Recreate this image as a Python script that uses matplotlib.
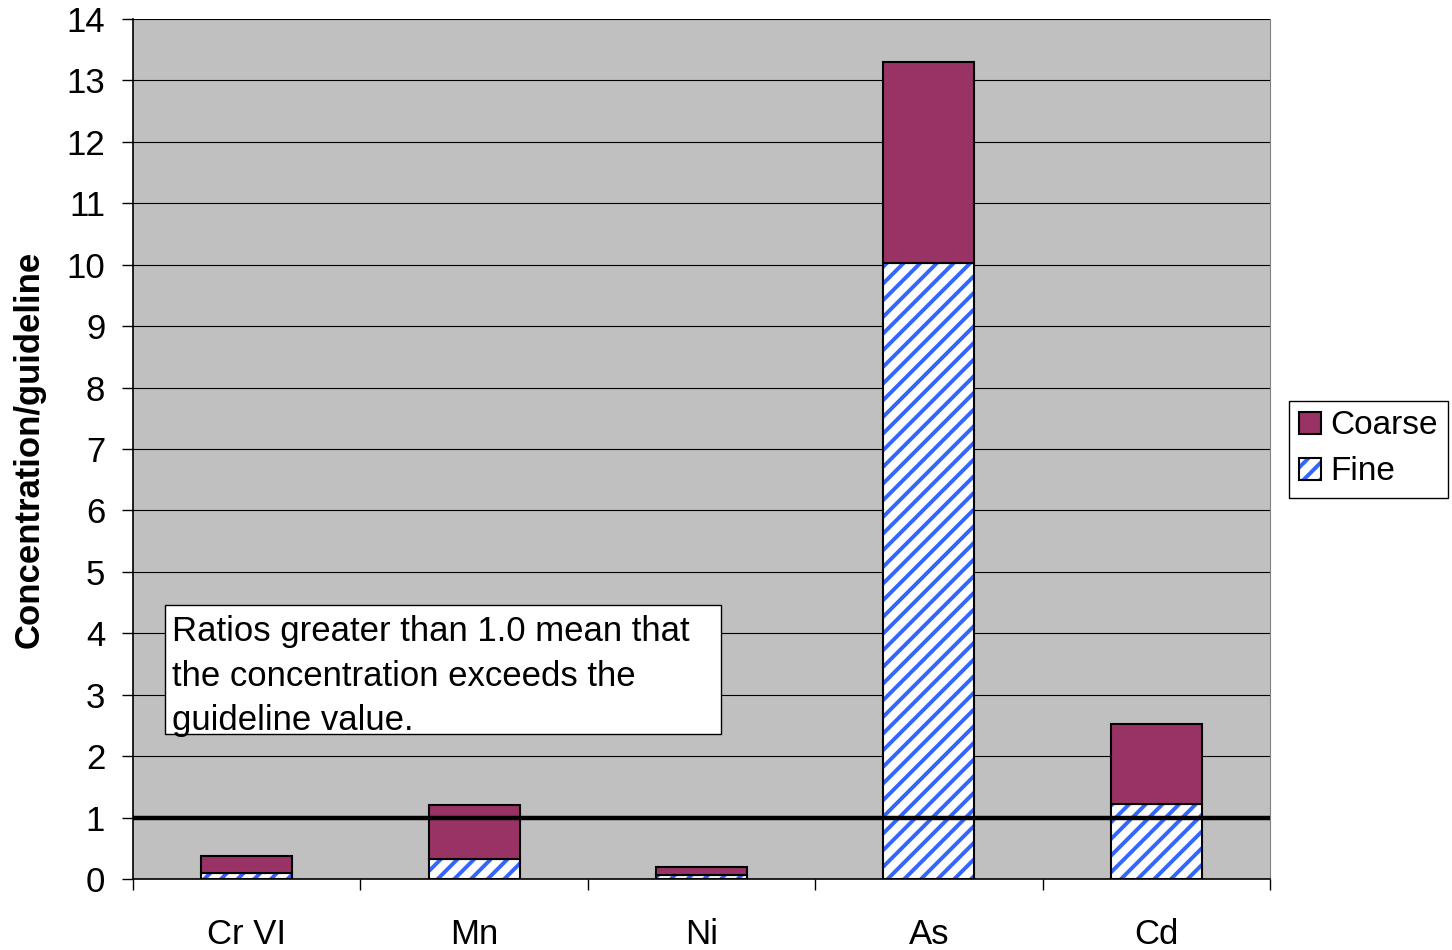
import matplotlib.pyplot as plt
from matplotlib.patches import Rectangle
import numpy as np

# данные
elements = ['Cr VI', 'Mn', 'Ni', 'As', 'Cd']
fine = [0.10, 0.32, 0.07, 10.03, 1.22]
coarse = [0.27, 0.88, 0.12, 3.27, 1.31]
guideline = 1.0
y_ticks = list(range(0, 15))
note = 'Ratios greater than 1.0 mean that\nthe concentration exceeds the\nguideline value.'

plt.rcParams['font.family'] = ['Liberation Sans', 'DejaVu Sans']
plt.rcParams['hatch.linewidth'] = 2.8

fig = plt.figure(figsize=(14.52, 9.5), dpi=100)
ax = fig.add_axes([133 / 1452, 1 - 879 / 950, (1270 - 133) / 1452, (879 - 19) / 950])
ax.set_facecolor('#c0c0c0')

x = np.arange(len(elements))
# штриховка синим, контур отдельно чёрным
fine_hatch = ax.bar(x, fine, width=0.4, facecolor='white', edgecolor='#3366ff',
                    hatch='//', linewidth=0, zorder=3)
fine_edge = ax.bar(x, fine, width=0.4, fill=False, edgecolor='black', linewidth=1.5, zorder=3)
coarse_bars = ax.bar(x, coarse, width=0.4, bottom=fine, facecolor='#993366',
                     edgecolor='black', linewidth=1.5, zorder=3)
ax.axhline(guideline, color='black', linewidth=3.2, zorder=4)

ax.set_xlim(-0.5, len(elements) - 0.5)
ax.set_ylim(0, 14)
ax.set_yticks(y_ticks)
ax.yaxis.grid(True, color='black', linewidth=0.8, zorder=0)
ax.set_axisbelow(True)
ax.tick_params(axis='y', labelsize=25, length=8, width=1, direction='out', pad=12)

# метки категорий без рисок, риски — на границах категорий
ax.set_xticks(x)
ax.set_xticklabels(elements)
ax.tick_params(axis='x', which='major', length=0, labelsize=25, pad=28)
ax.set_xticks(np.arange(-0.5, len(elements)), minor=True)
ax.tick_params(axis='x', which='minor', length=8, width=1, direction='out')

ax.spines['top'].set_visible(False)
ax.spines['right'].set_color('#808080')
ax.spines['left'].set_linewidth(1.2)
ax.spines['bottom'].set_linewidth(1.2)

ax.set_ylabel('Concentration/guideline', fontsize=25, fontweight='bold', labelpad=15)

# поле с пояснением: текст немного вылезает за нижний край рамки, как в оригинале
note_box = Rectangle((-0.359, 2.36), 2.445, 2.10, facecolor='white', edgecolor='black',
                     linewidth=1, zorder=5)
ax.add_patch(note_box)
note_text = ax.text(-0.33, 4.29, note, fontsize=25, va='top', ha='left', linespacing=1.44, zorder=6)
note_text.set_clip_path(note_box)

fig.legend([coarse_bars, (fine_hatch, fine_edge)], ['Coarse', 'Fine'], loc='center left',
           bbox_to_anchor=(1289 / 1452, 1 - 449 / 950), borderaxespad=0,
           fontsize=24, frameon=True, fancybox=False, edgecolor='black', framealpha=1,
           handlelength=0.65, handleheight=0.65, handletextpad=0.3, borderpad=0.3,
           labelspacing=0.45)

fig.savefig('out.png', dpi=100)
